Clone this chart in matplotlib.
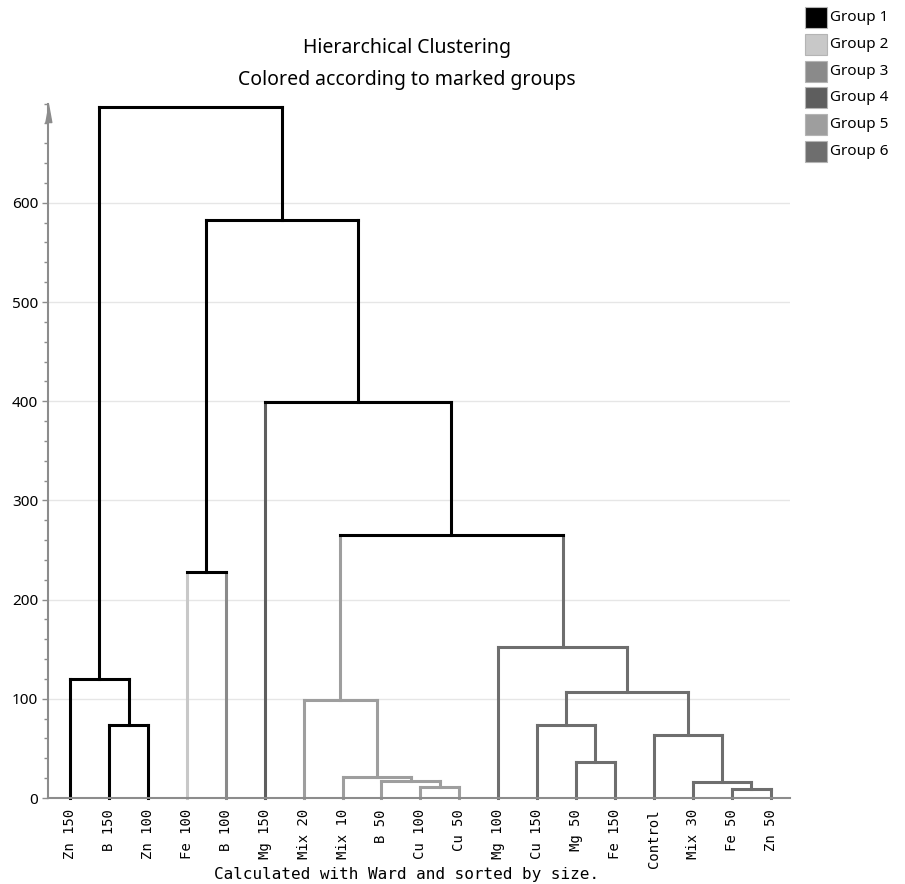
import matplotlib
matplotlib.use('Agg')
import matplotlib.pyplot as plt
from matplotlib.patches import Rectangle
from matplotlib.ticker import MultipleLocator

plt.rcParams['font.family'] = ['Noto Sans', 'DejaVu Sans']

# leaves, left to right as in the dendrogram
leaf_labels = ['Zn 150', 'B 150', 'Zn 100', 'Fe 100', 'B 100', 'Mg 150',
               'Mix 20', 'Mix 10', 'B 50', 'Cu 100', 'Cu 50', 'Mg 100',
               'Cu 150', 'Mg 50', 'Fe 150', 'Control', 'Mix 30', 'Fe 50', 'Zn 50']
leaf_groups = [1, 1, 1, 2, 3, 4, 5, 5, 5, 5, 5, 6, 6, 6, 6, 6, 6, 6, 6]

# merges: new node ids start at len(leaf_labels)
merge_left = [1, 0, 3, 9, 8, 7, 6, 13, 12, 17, 16, 15, 27, 11, 25, 5, 21, 20]
merge_right = [2, 19, 4, 10, 22, 23, 24, 14, 26, 18, 28, 29, 30, 31, 32, 33, 34, 35]
merge_height = [74, 120, 228, 11, 17, 21, 99, 36, 74, 9, 16, 64, 107, 152, 265, 399, 583, 697]

group_names = ['Group 1', 'Group 2', 'Group 3', 'Group 4', 'Group 5', 'Group 6']
group_colors = ['#000000', '#c8c8c8', '#8a8a8a', '#5e5e5e', '#9e9e9e', '#6e6e6e']

W, H = 905, 884
fig = plt.figure(figsize=(W / 100, H / 100), dpi=100)
ax = fig.add_axes([48 / W, 1 - 798 / H, (790 - 48) / W, (798 - 103.6) / H])

n = len(leaf_labels)
xs = list(range(n))
hs = [0] * n
grp = list(leaf_groups)
parent_h = {}
for l, r, h in zip(merge_left, merge_right, merge_height):
    xs.append((xs[l] + xs[r]) / 2)
    hs.append(h)
    grp.append(grp[l] if grp[l] == grp[r] else None)
    parent_h[l] = h
    parent_h[r] = h


def col(g):
    return '#000000' if g is None else group_colors[g - 1]


lw = 2.2
for i in range(len(xs)):
    c = col(grp[i])
    if i in parent_h:
        ax.plot([xs[i], xs[i]], [hs[i], parent_h[i]], color=c, lw=lw,
                solid_capstyle='projecting', zorder=2, clip_on=False)
    if i >= n:
        k = i - n
        ax.plot([xs[merge_left[k]], xs[merge_right[k]]], [hs[i], hs[i]], color=c,
                lw=lw, solid_capstyle='projecting', zorder=3, clip_on=False)

xmin, xmax = -0.57, 18.5
ax.set_xlim(xmin, xmax)
ax.set_ylim(0, 700)

for s in ['top', 'right']:
    ax.spines[s].set_visible(False)
for s in ['left', 'bottom']:
    ax.spines[s].set_color('#8c8c8c')
    ax.spines[s].set_linewidth(1.5)

ax.set_yticks(range(0, 700, 100))
ax.yaxis.set_minor_locator(MultipleLocator(20))
ax.tick_params(axis='y', which='major', length=4, width=1, color='#8c8c8c',
               labelsize=11, pad=3)
ax.tick_params(axis='y', which='minor', length=3, width=1, color='#8c8c8c')
ax.yaxis.grid(True, which='major', color='#e6e6e6', lw=1)
ax.set_axisbelow(True)

ax.set_xticks(range(n))
ax.set_xticklabels(leaf_labels, rotation=90, fontfamily='DejaVu Sans Mono', fontsize=10)
ax.tick_params(axis='x', length=0, pad=8)

# arrow head on the y axis
ax.plot([xmin], [700], marker=[(-0.42, -2.3), (0.42, -2.3), (0, 0)], ms=26,
        color='#8c8c8c', clip_on=False, zorder=5)

fig.text(407 / W, 1 - 48 / H, 'Hierarchical Clustering', ha='center', va='center', fontsize=14)
fig.text(407 / W, 1 - 80 / H, 'Colored according to marked groups', ha='center', va='center',
         fontsize=14)
fig.text(406 / W, 1 - 874 / H, 'Calculated with Ward and sorted by size.', ha='center',
         va='center', fontfamily='DejaVu Sans Mono', fontsize=11.5)

for i, (name, c) in enumerate(zip(group_names, group_colors)):
    y0 = 7 + i * 26.8
    fig.add_artist(Rectangle((805 / W, 1 - (y0 + 21) / H), 22 / W, 21 / H,
                             transform=fig.transFigure, facecolor=c,
                             edgecolor='#b4b4b4', lw=0.8))
    fig.text(830 / W, 1 - (y0 + 10.5) / H, name, va='center', fontsize=11)

fig.savefig('out.png', dpi=100)
